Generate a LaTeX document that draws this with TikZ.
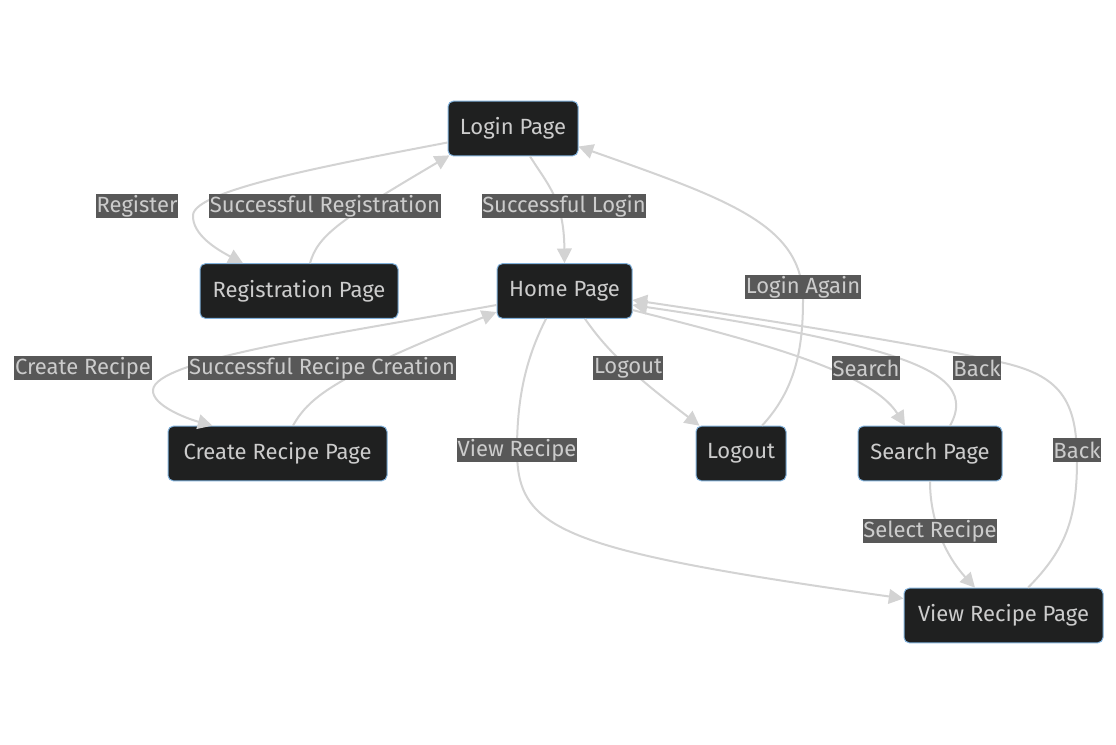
\documentclass[tikz,border=0pt]{standalone}
\usepackage{fontspec}
\setmainfont{Fira Sans}
\usetikzlibrary{arrows.meta,calc}
\definecolor{nodefill}{HTML}{1F2020}
\definecolor{nodeborder}{HTML}{81B1DB}
\definecolor{nodetext}{HTML}{CCCCCC}
\definecolor{edgecol}{HTML}{D3D3D3}
\definecolor{labelbg}{HTML}{585858}
\tikzset{
  box/.style={draw=nodeborder, fill=nodefill, text=nodetext, rounded corners=4pt, line width=0.75pt,
    minimum height=41pt, inner sep=0pt, font=\fontsize{16.5}{18}\selectfont},
  lbl/.style={fill=labelbg, text=nodetext, inner xsep=0.5pt, inner ysep=0pt, minimum height=18.5pt,
    font=\fontsize{16.5}{18}\selectfont},
  edge/.style={draw=edgecol, line width=1.5pt, -{Triangle[length=11pt,width=11pt]}}
}
\begin{document}
\begin{tikzpicture}[x=0.75pt,y=-0.75pt]
\useasboundingbox[fill=white] (0,0) rectangle (1116,744);
% nodes
\node[box, minimum width=97.5pt] (login) at (513,128.5) {Login Page};
\node[box, minimum width=148.5pt] (reg) at (299,291) {Registration Page};
\node[box, minimum width=101.25pt] (home) at (564.5,291) {Home Page};
\node[box, minimum width=164.25pt] (create) at (277.5,453.5) {Create Recipe Page};
\node[box, minimum width=67.5pt] (logout) at (741,453.5) {Logout};
\node[box, minimum width=108pt] (search) at (930,453.5) {Search Page};
\node[box, minimum width=149.25pt] (view) at (1003.5,615.5) {View Recipe Page};
% edges
\draw[edge] ($(login.west)+(0,14)$) .. controls (330,165) and (195,190) .. (193,215)
  .. controls (192,235) and (218,250) .. ($(reg.north)+(-56,0)$);
\draw[edge] ($(reg.north)+(11,0)$) .. controls (318,235) and (340,220) .. ($(login.south west)+(2,-1)$);
\draw[edge] ($(login.south)+(17,0)$) .. controls (548,185) and (564,200) .. (home.north);
\draw[edge] ($(home.west)+(0,14)$) .. controls (330,335) and (155,360) .. (153,390)
  .. controls (152,405) and (185,418) .. ($(create.north)+(-65,0)$);
\draw[edge] ($(create.north)+(15.5,0)$) .. controls (310,395) and (340,375) .. ($(home.west)+(0,21)$);
\draw[edge] ($(home.south)+(20.5,0)$) .. controls (610,355) and (640,380) .. ($(logout.north west)+(4,0)$);
\draw[edge] ($(logout.north)+(21,0)$) .. controls (795,390) and (803,350) .. (803,300)
  .. controls (803,225) and (730,200) .. ($(login.east)+(0,18)$);
\draw[edge] ($(home.east)+(0,19)$) .. controls (750,340) and (870,370) .. ($(search.north)+(-25,0)$);
\draw[edge] ($(search.north)+(20,0)$) .. controls (970,390) and (940,370) .. (880,352)
  .. controls (800,330) and (700,315) .. ($(home.east)+(0,14)$);
\draw[edge] ($(view.north)+(24.5,0)$) .. controls (1065,550) and (1077,520) .. (1077,460)
  .. controls (1077,400) and (1060,375) .. (1000,362)
  .. controls (900,340) and (700,310) .. ($(home.east)+(0,9)$);
\draw[edge] ($(home.south)+(-18.5,0)$) .. controls (525,360) and (517,400) .. (517,450)
  .. controls (517,530) and (560,550) .. ($(view.west)+(0,-17)$);
\draw[edge] (search.south) .. controls (930,520) and (945,555) .. ($(view.north)+(-28.5,0)$);
% labels
\node[lbl] (l1) at (137,206) {Register};
\node[lbl] (l2) at (325,206) {Successful Registration};
\node[lbl] (l3) at (564,206) {Successful Login};
\node[lbl] (l4) at (803,287) {Login Again};
\node[lbl] (l5) at (83,368) {Create Recipe};
\node[lbl] (l6) at (322,368) {Successful Recipe Creation};
\node[lbl] (l7) at (628,368) {Logout};
\node[lbl] (l8) at (866,368) {Search};
\node[lbl] (l9) at (977,368) {Back};
\node[lbl] (l10) at (517,450) {View Recipe};
\node[lbl] (l11) at (1077,450) {Back};
\node[lbl] (l12) at (930,531) {Select Recipe};
\end{tikzpicture}
\end{document}
